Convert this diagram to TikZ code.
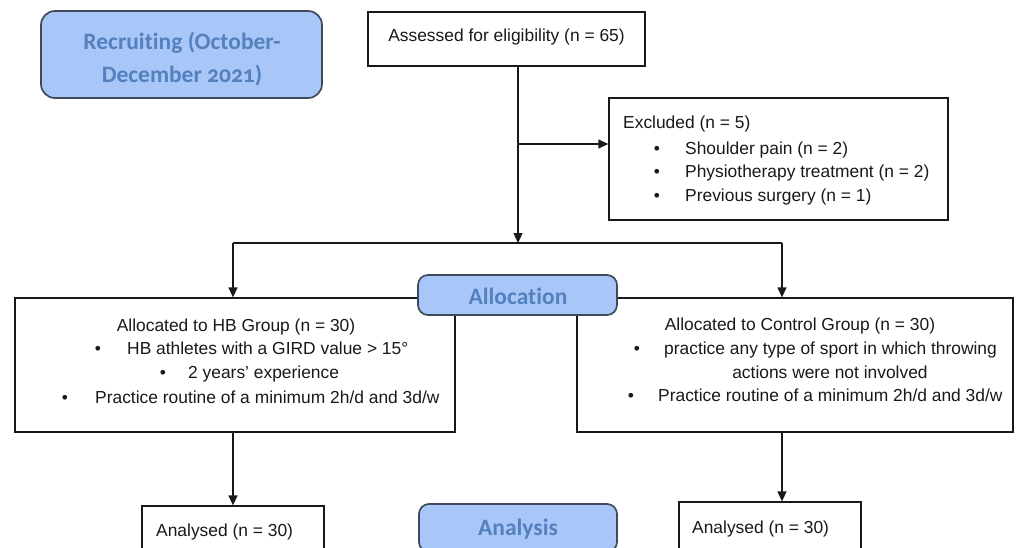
\documentclass[tikz,border=0pt]{standalone}
\usepackage{fontspec}
\setmainfont{Liberation Sans}
\newfontfamily\calib[Numbers=OldStyle,Ligatures=NoCommon]{Carlito}
\usetikzlibrary{arrows.meta}
\definecolor{bluefill}{RGB}{168,198,248}
\definecolor{bluetext}{RGB}{84,128,190}
\definecolor{blueedge}{RGB}{62,74,90}
\definecolor{ink}{RGB}{25,25,25}
\begin{document}
\begin{tikzpicture}[x=1pt,y=-1pt,
  box/.style={draw=ink, line width=1.3pt, fill=white, rectangle, inner sep=0pt},
  phase/.style={draw=blueedge, line width=1.7pt, fill=bluefill, rounded corners=10pt, inner sep=0pt},
  ptxt/.style={inner sep=0pt, text=bluetext, font=\calib\bfseries\fontsize{23.5}{33}\selectfont, align=center},
  txt/.style={inner sep=0pt, anchor=base west, text=ink, font=\fontsize{17.4}{24}\selectfont},
  ctxt/.style={inner sep=0pt, anchor=base, text=ink, font=\fontsize{17.4}{24}\selectfont},
  arr/.style={draw=ink, line width=1.3pt, -{Triangle[length=10pt,width=9pt]}},
  ln/.style={draw=ink, line width=1.3pt}]
\useasboundingbox (0,0) rectangle (1021,547);
\clip (0,0) rectangle (1021,547);

% boxes
\node[box, minimum width=277pt, minimum height=54pt] (assess) at (506.5,39) {};
\node[box, minimum width=339pt, minimum height=122pt] (excl) at (778.5,159) {};
\node[box, minimum width=440pt, minimum height=134pt] (hb) at (235,365) {};
\node[box, minimum width=436pt, minimum height=134pt] (ctrl) at (795,365) {};
\node[box, minimum width=182pt, minimum height=60pt] (anL) at (233,536) {};
\node[box, minimum width=182pt, minimum height=60pt] (anR) at (770,532) {};

% texts
\node[ctxt] (assessT) at (506.5,41) {Assessed for eligibility (n = 65)};

\node[txt] (exT) at (623,128) {Excluded (n = 5)};
\node[ctxt] (exB1) at (657,154) {•};
\node[txt] (exI1) at (685,154) {Shoulder pain (n = 2)};
\node[ctxt] (exB2) at (657,177) {•};
\node[txt] (exI2) at (685,177) {Physiotherapy treatment (n = 2)};
\node[ctxt] (exB3) at (657,201) {•};
\node[txt] (exI3) at (685,201) {Previous surgery (n = 1)};

\node[ctxt] (hbT) at (236,331) {Allocated to HB Group (n = 30)};
\node[ctxt] (hbB1) at (98,354) {•};
\node[txt] (hbI1) at (127,354) {HB athletes with a GIRD value > 15°};
\node[ctxt] (hbB2) at (163,378) {•};
\node[txt] (hbI2) at (188,378) {2 years’ experience};
\node[ctxt] (hbB3) at (65,403) {•};
\node[txt] (hbI3) at (95,403) {Practice routine of a minimum 2h/d and 3d/w};

\node[ctxt] (ctT) at (800,330) {Allocated to Control Group (n = 30)};
\node[ctxt] (ctB1) at (637,354) {•};
\node[txt] (ctI1) at (664,354) {practice any type of sport in which throwing};
\node[ctxt] (ctI1b) at (830,378) {actions were not involved};
\node[ctxt] (ctB2) at (631,401) {•};
\node[txt] (ctI2) at (658,401) {Practice routine of a minimum 2h/d and 3d/w};

\node[txt] (anLT) at (156,536) {Analysed (n = 30)};
\node[txt] (anRT) at (692,533) {Analysed (n = 30)};

% connectors
\coordinate (split) at (518,243);
\coordinate (exbr) at (518,144);
\coordinate (hbx) at (233,243);
\coordinate (ctx) at (782,243);
\draw[arr] (assess.south -| split) -- (split);
\draw[arr] (exbr) -- (exbr -| excl.west);
\draw[ln] (hbx) -- (ctx);
\draw[arr] (hbx) -- (hbx |- hb.north);
\draw[arr] (ctx) -- (ctx |- ctrl.north);
\draw[arr] (hb.south -| hbx) -- (hbx |- anL.north);
\draw[arr] (ctrl.south -| ctx) -- (ctx |- anR.north);

% phase labels
\node[phase, minimum width=281pt, minimum height=87pt, rounded corners=14pt] (recruit) at (181.5,54.5) {};
\node[ptxt] (recruitT) at (182,59) {Recruiting (October-\\December 2021)};
\node[phase, minimum width=199pt, minimum height=40pt] (alloc) at (517.5,295) {};
\node[ptxt] (allocT) at (518,296.5) {Allocation};
\node[phase, minimum width=198pt, minimum height=48pt] (analysis) at (518,528) {};
\node[ptxt] (analysisT) at (518,529) {Analysis};
\end{tikzpicture}
\end{document}
